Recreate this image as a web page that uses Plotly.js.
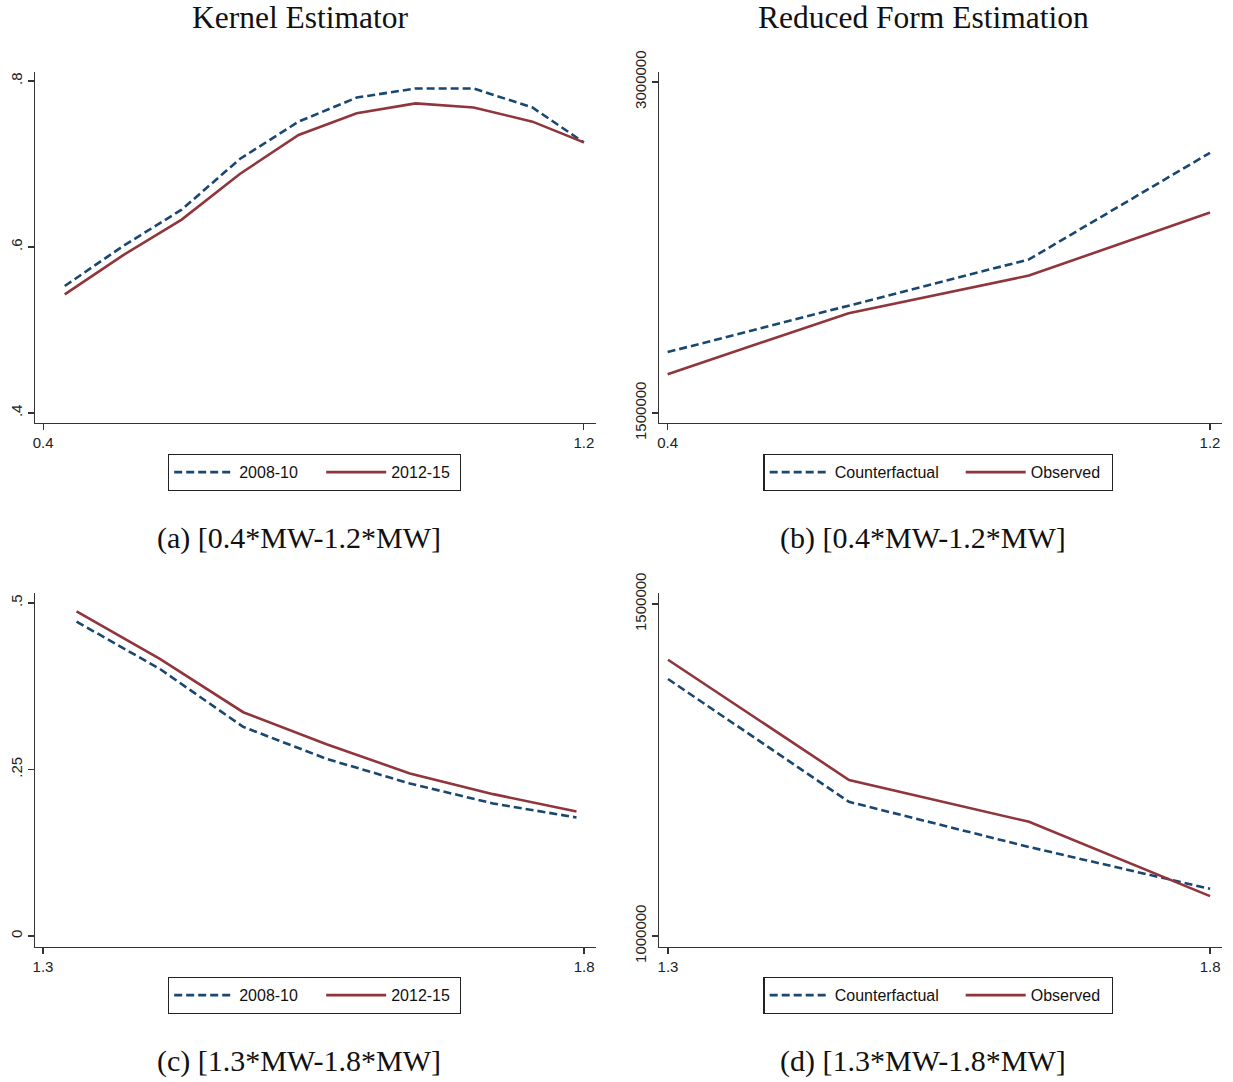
<!DOCTYPE html>
<html><head><meta charset="utf-8">
<script src="https://cdn.plot.ly/plotly-3.0.1.min.js"></script>
<style>html,body{margin:0;padding:0;background:#fff}#chart{width:1233px;height:1082px}</style>
</head><body><div id="chart"></div>
<script>
// ---- data ----
// Panel (a): kernel estimator, 0.4*MW-1.2*MW
const xA = [0.432, 0.518, 0.605, 0.691, 0.778, 0.864, 0.951, 1.037, 1.124, 1.2];
const a2008 = [0.553, 0.601, 0.645, 0.706, 0.751, 0.780, 0.791, 0.791, 0.768, 0.726];
const a2012 = [0.543, 0.590, 0.633, 0.688, 0.735, 0.761, 0.773, 0.768, 0.751, 0.726];
// Panel (b): reduced form, 0.4*MW-1.2*MW
const xB = [0.4, 0.667, 0.933, 1.2];
const bCounter = [1776000, 1988000, 2196000, 2679000];
const bObserved = [1676000, 1952000, 2123000, 2408000];
// Panel (c): kernel estimator, 1.3*MW-1.8*MW
const xC = [1.331, 1.408, 1.485, 1.562, 1.639, 1.716, 1.793];
const c2008 = [0.472, 0.401, 0.314, 0.266, 0.229, 0.199, 0.178];
const c2012 = [0.4875, 0.416, 0.336, 0.288, 0.244, 0.213, 0.187];
// Panel (d): reduced form, 1.3*MW-1.8*MW
const xD = [1.3, 1.467, 1.633, 1.8];
const dCounter = [1387000, 1202000, 1134000, 1071000];
const dObserved = [1416000, 1235000, 1172000, 1060000];

// tick labels
const xTicksAB = [0.4, 1.2], xTextAB = ['0.4', '1.2'];
const xTicksCD = [1.3, 1.8], xTextCD = ['1.3', '1.8'];
const yTicksA = [0.4, 0.6, 0.8], yTextA = ['.4', '.6', '.8'];
const yTicksB = [1500000, 3000000], yTextB = ['1500000', '3000000'];
const yTicksC = [0, 0.25, 0.5], yTextC = ['0', '.25', '.5'];
const yTicksD = [1000000, 1500000], yTextD = ['1000000', '1500000'];

const panelTitles = ['Kernel Estimator', 'Reduced Form Estimation'];
const captions = ['(a) [0.4*MW-1.2*MW]', '(b) [0.4*MW-1.2*MW]', '(c) [1.3*MW-1.8*MW]', '(d) [1.3*MW-1.8*MW]'];
const namesKernel = ['2008-10', '2012-15'];
const namesReduced = ['Counterfactual', 'Observed'];

// ---- styling ----
const W = 1233, H = 1082;
const px = v => v / W;
const py = v => 1 - v / H;
const BLUE = '#1a476f', RED = '#90353b';
const dashed = {color: BLUE, width: 2.6, dash: '8px,4px'};
const solid = {color: RED, width: 2.6};

function tr(x, y, name, line, xa, ya, leg, lw) {
  const t = {x: x, y: y, name: name, type: 'scatter', mode: 'lines', line: line,
          xaxis: xa, yaxis: ya, legend: leg, hoverinfo: 'skip'};
  if (lw) t.legendwidth = lw;
  return t;
}
const data = [
  tr(xA, a2008, namesKernel[0], dashed, 'x', 'y', 'legend', 77),
  tr(xA, a2012, namesKernel[1], solid, 'x', 'y', 'legend', 63),
  tr(xB, bCounter, namesReduced[0], dashed, 'x2', 'y2', 'legend2', 121),
  tr(xB, bObserved, namesReduced[1], solid, 'x2', 'y2', 'legend2', 76),
  tr(xC, c2008, namesKernel[0], dashed, 'x3', 'y3', 'legend3', 77),
  tr(xC, c2012, namesKernel[1], solid, 'x3', 'y3', 'legend3', 63),
  tr(xD, dCounter, namesReduced[0], dashed, 'x4', 'y4', 'legend4', 121),
  tr(xD, dObserved, namesReduced[1], solid, 'x4', 'y4', 'legend4', 76)
];

const tickFont = {family: 'Liberation Sans, Arial, sans-serif', size: 15, color: '#222'};
function axis(dom, range, tv, tt, anchor, isY) {
  const a = {domain: dom, range: range, anchor: anchor, tickmode: 'array', tickvals: tv, ticktext: tt,
    showline: true, linecolor: '#333', linewidth: 1.3, ticks: 'outside', ticklen: 6, tickwidth: 1.2,
    tickcolor: '#333', showgrid: false, zeroline: false, tickfont: tickFont, fixedrange: true};
  if (isY) a.tickangle = -90;
  return a;
}
const xdL = [px(35), px(596)], xdR = [px(659), px(1222)];
const ydT = [py(423), py(72)], ydB = [py(947), py(593)];

function legend(cx, cy) {
  return {x: px(cx), y: py(cy), xanchor: 'center', yanchor: 'middle', orientation: 'h',
    bordercolor: '#222', borderwidth: 1.2, bgcolor: '#fff', itemwidth: 60,
    font: {family: 'Liberation Sans, Arial, sans-serif', size: 16, color: '#111'}};
}

const serif = {family: 'Liberation Serif, Times New Roman, serif', size: 30, color: '#111'};
const serifTitle = {family: 'Liberation Serif, Times New Roman, serif', size: 31.5, color: '#111'};
function ann(text, cx, cy, f) {
  return {text: text, x: px(cx), y: py(cy), xref: 'paper', yref: 'paper', showarrow: false,
          xanchor: 'center', yanchor: 'middle', font: f};
}

const layout = {
  width: W, height: H, margin: {l: 0, r: 0, t: 0, b: 0, pad: 0},
  paper_bgcolor: '#fff', plot_bgcolor: '#fff', showlegend: true,
  xaxis: axis(xdL, [0.388, 1.218], xTicksAB, xTextAB, 'y', false),
  yaxis: axis(ydT, [0.388, 0.8108], yTicksA, yTextA, 'x', true),
  xaxis2: axis(xdR, [0.3873, 1.2177], xTicksAB, xTextAB, 'y2', false),
  yaxis2: axis(ydT, [1454800, 3045000], yTicksB, yTextB, 'x2', true),
  xaxis3: axis(xdL, [1.2926, 1.811], xTicksCD, xTextCD, 'y3', false),
  yaxis3: axis(ydB, [-0.0165, 0.515], yTicksC, yTextC, 'x3', true),
  xaxis4: axis(xdR, [1.2917, 1.811], xTicksCD, xTextCD, 'y4', false),
  yaxis4: axis(ydB, [983400, 1516600], yTicksD, yTextD, 'x4', true),
  legend: legend(314.5, 472.5),
  legend2: legend(938.5, 472.5),
  legend3: legend(314.5, 995.5),
  legend4: legend(938.5, 995.5),
  annotations: [
    ann(panelTitles[0], 300, 18, serifTitle), ann(panelTitles[1], 923, 18, serifTitle),
    ann(captions[0], 299, 538, serif), ann(captions[1], 923, 538, serif),
    ann(captions[2], 299, 1061, serif), ann(captions[3], 923, 1061, serif)
  ]
};
Plotly.newPlot('chart', data, layout, {displayModeBar: false, staticPlot: true});
</script></body></html>
